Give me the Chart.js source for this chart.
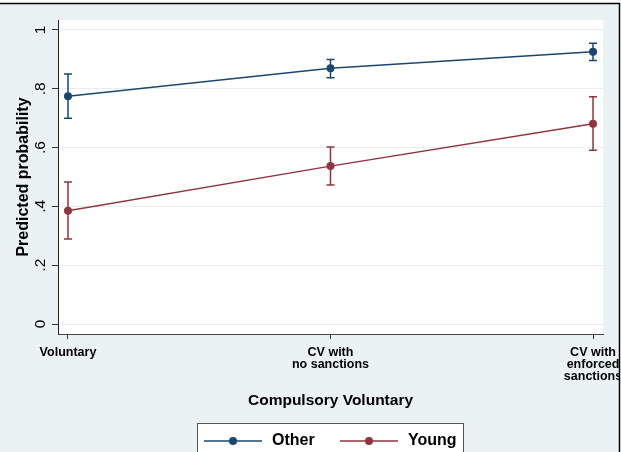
<!DOCTYPE html>
<html>
<head>
<meta charset="utf-8">
<script src="https://cdn.jsdelivr.net/npm/chart.js@4.4.1/dist/chart.umd.min.js"></script>
<style>
  html, body { margin: 0; padding: 0; background: #fff; }
  #wrap { position: relative; width: 621px; height: 452px; }
</style>
</head>
<body>
<div id="wrap"><canvas id="probChart"></canvas></div>
<script>
// categories on the x axis (positions 0, 1, 2)
const categories = ["Voluntary", ["CV with", "no sanctions"], ["CV with", "enforced", "sanctions"]];

// predicted probabilities with 95% CI
const otherMean = [0.775, 0.870, 0.926];
const otherLow = [0.700, 0.838, 0.896];
const otherHigh = [0.850, 0.900, 0.955];

const youngMean = [0.385, 0.537, 0.681];
const youngLow = [0.289, 0.473, 0.591];
const youngHigh = [0.483, 0.602, 0.773];

const yTickValues = [0, 0.2, 0.4, 0.6, 0.8, 1];
const yTickLabels = ["0", ".2", ".4", ".6", ".8", "1"];

const seriesNames = ["Other", "Young"];

const navy = "#1a476f";
const maroon = "#90353b";
const bgColor = "#eaf2f3";
const fontFamily = "'Liberation Sans', Arial, Helvetica, sans-serif";

const toPoints = (arr) => arr.map((v, i) => ({ x: i, y: v }));

// light background, white plot region and outer frame
const stataBackground = {
  id: "stataBackground",
  beforeDraw(chart) {
    const { ctx, chartArea: a } = chart;
    ctx.save();
    ctx.fillStyle = "#fff";
    ctx.fillRect(0, 0, chart.width, chart.height);
    ctx.fillStyle = bgColor;
    ctx.fillRect(0, 4, 619, chart.height - 4);
    ctx.fillStyle = "#fff";
    ctx.fillRect(a.left, a.top, a.right - a.left, a.bottom - a.top);
    ctx.restore();
  },
};

// capped CI spikes, drawn through the chart scales
const errorBars = {
  id: "errorBars",
  beforeDatasetsDraw(chart) {
    const { ctx, scales } = chart;
    const bounds = [
      [otherLow, otherHigh],
      [youngLow, youngHigh],
    ];
    ctx.save();
    chart.data.datasets.forEach((ds, di) => {
      const [lo, hi] = bounds[di];
      ctx.strokeStyle = ds.borderColor;
      ctx.lineWidth = 1.5;
      lo.forEach((l, i) => {
        const x = scales.x.getPixelForValue(i);
        const y1 = scales.y.getPixelForValue(l);
        const y2 = scales.y.getPixelForValue(hi[i]);
        ctx.beginPath();
        ctx.moveTo(x, y1);
        ctx.lineTo(x, y2);
        ctx.moveTo(x - 4, y1);
        ctx.lineTo(x + 4, y1);
        ctx.moveTo(x - 4, y2);
        ctx.lineTo(x + 4, y2);
        ctx.stroke();
      });
    });
    ctx.restore();
  },
};

// rotated y tick labels, frame lines and the boxed legend
const stataExtras = {
  id: "stataExtras",
  afterDraw(chart) {
    const { ctx, scales } = chart;
    ctx.save();
    ctx.fillStyle = "#000";
    ctx.font = "15.5px " + fontFamily;
    ctx.textAlign = "center";
    ctx.textBaseline = "middle";
    scales.y.ticks.forEach((t, i) => {
      const y = scales.y.getPixelForValue(t.value);
      ctx.save();
      ctx.translate(41, y);
      ctx.rotate(-Math.PI / 2);
      ctx.fillText(yTickLabels[i], 0, 0);
      ctx.restore();
    });

    // legend
    ctx.fillStyle = "#fff";
    ctx.fillRect(197, 423, 267, 40);
    ctx.strokeStyle = "#555";
    ctx.lineWidth = 1;
    ctx.strokeRect(197.5, 423.5, 266, 40);
    const items = [
      { x0: 204, x1: 262, text: 272 },
      { x0: 340, x1: 398, text: 408 },
    ];
    chart.data.datasets.forEach((ds, i) => {
      const it = items[i];
      const ly = 441;
      ctx.strokeStyle = ds.borderColor;
      ctx.lineWidth = 1.5;
      ctx.beginPath();
      ctx.moveTo(it.x0, ly);
      ctx.lineTo(it.x1, ly);
      ctx.stroke();
      ctx.fillStyle = ds.borderColor;
      ctx.beginPath();
      ctx.arc((it.x0 + it.x1) / 2, ly, 4, 0, Math.PI * 2);
      ctx.fill();
      ctx.fillStyle = "#000";
      ctx.font = "bold 16px " + fontFamily;
      ctx.textAlign = "left";
      ctx.fillText(ds.label, it.text, ly);
    });

    // outer frame (top and right); nothing shows past the right edge
    ctx.fillStyle = "#fff";
    ctx.fillRect(620, 0, chart.width - 620, chart.height);
    ctx.strokeStyle = "#000";
    ctx.lineWidth = 1.5;
    ctx.beginPath();
    ctx.moveTo(0, 3.5);
    ctx.lineTo(619.5, 3.5);
    ctx.lineTo(619.5, chart.height);
    ctx.stroke();
    ctx.restore();
  },
};

const ctx = document.getElementById("probChart").getContext("2d");
new Chart(ctx, {
  type: "line",
  data: {
    datasets: [
      {
        label: seriesNames[0],
        data: toPoints(otherMean),
        borderColor: navy,
        backgroundColor: navy,
        borderWidth: 1.5,
        pointRadius: 4,
        pointBorderWidth: 0,
        pointBackgroundColor: navy,
        tension: 0,
      },
      {
        label: seriesNames[1],
        data: toPoints(youngMean),
        borderColor: maroon,
        backgroundColor: maroon,
        borderWidth: 1.5,
        pointRadius: 4,
        pointBorderWidth: 0,
        pointBackgroundColor: maroon,
        tension: 0,
      },
    ],
  },
  options: {
    responsive: true,
    maintainAspectRatio: false,
    animation: false,
    events: [],
    layout: { padding: { left: 0, right: 18, top: 20, bottom: 0 } },
    plugins: {
      legend: { display: false },
      tooltip: { enabled: false },
    },
    scales: {
      x: {
        type: "linear",
        min: -0.038,
        max: 2.038,
        afterBuildTicks: (scale) => {
          scale.ticks = categories.map((c, i) => ({ value: i }));
        },
        afterFit: (scale) => {
          scale.height = 118;
          scale.paddingLeft = 0;
          scale.paddingRight = 0;
        },
        grid: {
          drawOnChartArea: false,
          tickLength: 5,
          tickColor: "#333",
        },
        border: { color: "#444", width: 1 },
        ticks: {
          autoSkip: false,
          maxRotation: 0,
          minRotation: 0,
          padding: 8,
          color: "#000",
          font: { family: fontFamily, size: 12.5, weight: "bold", lineHeight: 0.94 },
          callback: (v) => categories[v],
        },
        title: {
          display: true,
          text: "Compulsory Voluntary",
          color: "#000",
          font: { family: fontFamily, size: 15.5, weight: "bold" },
          padding: { top: 0, bottom: 42 },
        },
      },
      y: {
        min: -0.034,
        max: 1.034,
        afterBuildTicks: (scale) => {
          scale.ticks = yTickValues.map((v) => ({ value: v }));
        },
        afterFit: (scale) => {
          scale.width = 58;
        },
        grid: {
          color: "#e6eef0",
          tickColor: "#333",
          tickLength: 6,
          lineWidth: 1,
        },
        border: { color: "#222", width: 1 },
        ticks: { display: false },
        title: {
          display: true,
          text: "Predicted probability",
          color: "#000",
          font: { family: fontFamily, size: 16, weight: "bold" },
          padding: { top: 14, bottom: 0 },
        },
      },
    },
  },
  plugins: [stataBackground, errorBars, stataExtras],
});
</script>
</body>
</html>
